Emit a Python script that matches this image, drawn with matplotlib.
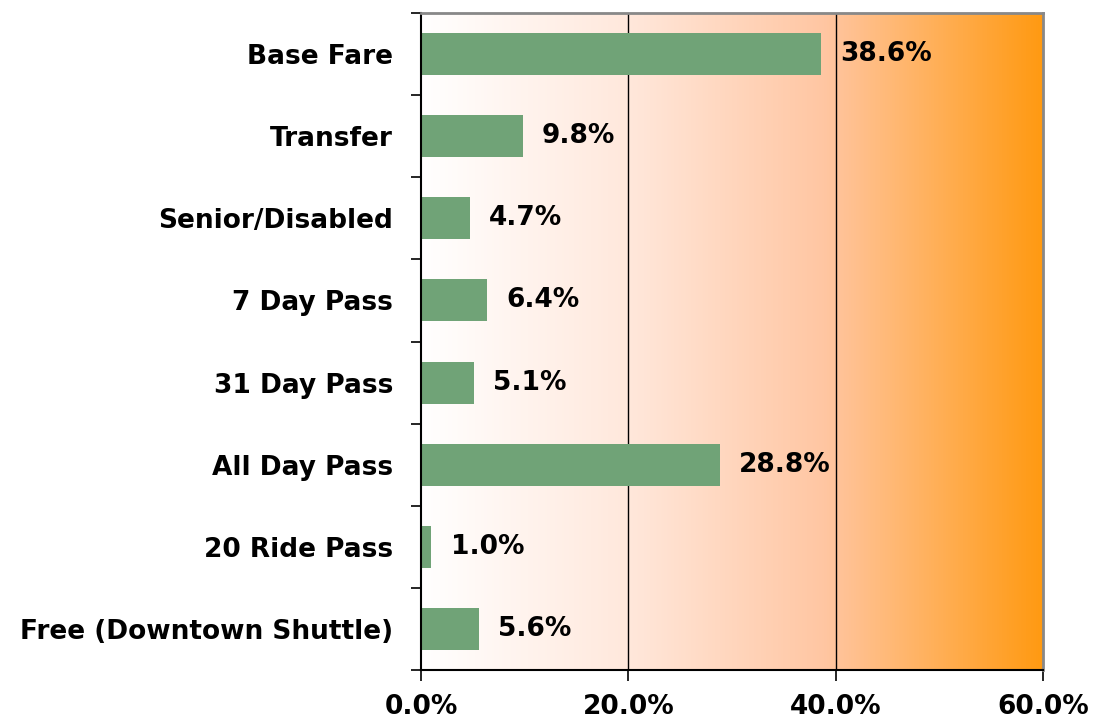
import numpy as np
import matplotlib.pyplot as plt
from matplotlib.colors import LinearSegmentedColormap

# === Données ===
categories = ["Base Fare", "Transfer", "Senior/Disabled", "7 Day Pass",
              "31 Day Pass", "All Day Pass", "20 Ride Pass", "Free (Downtown Shuttle)"]
values = [38.6, 9.8, 4.7, 6.4, 5.1, 28.8, 1.0, 5.6]
x_ticks = [0, 20, 40, 60]

bar_color = "#70a377"
bg_cmap = LinearSegmentedColormap.from_list(
    "bg", [(0.0, "#ffffff"), (0.33, "#ffe8dc"), (0.65, "#ffc6a2"), (1.0, "#ff9a12")])

fig = plt.figure(figsize=(10.98, 7.21), dpi=100)
ax = fig.add_axes([421 / 1098, 1 - 670 / 721, (1043 - 421) / 1098, (670 - 13) / 721])

n = len(categories)
ypos = np.arange(n)

# fond dégradé
grad = np.linspace(0, 1, 512).reshape(1, -1)
ax.imshow(grad, cmap=bg_cmap, aspect="auto", extent=[0, 60, n - 0.5, -0.5], zorder=0)

for x in [20, 40]:
    ax.axvline(x, color="black", lw=1.0, zorder=1)

ax.barh(ypos, values, height=0.51, color=bar_color, zorder=2)

for y, v in zip(ypos, values):
    ax.annotate(f"{v:.1f}%", (v, y), xytext=(14, 0), textcoords="offset points",
                va="center", ha="left", fontsize=19, fontweight="bold", zorder=3)

ax.set_xlim(0, 60)
ax.set_ylim(n - 0.5, -0.5)
ax.set_xticks(x_ticks)
ax.set_xticklabels([f"{t:.1f}%" for t in x_ticks], fontsize=19, fontweight="bold")
ax.set_yticks(ypos)
ax.set_yticklabels(categories, fontsize=19, fontweight="bold")
ax.set_yticks(np.arange(n + 1) - 0.5, minor=True)
ax.tick_params(axis="y", which="major", length=0, pad=20)
ax.tick_params(axis="y", which="minor", length=7, width=1.2, direction="out")
ax.tick_params(axis="x", length=8, width=1.2, direction="out", pad=9)

for side in ["left", "bottom"]:
    ax.spines[side].set_color("black")
    ax.spines[side].set_linewidth(1.5)
for side in ["top", "right"]:
    ax.spines[side].set_color("#888888")
    ax.spines[side].set_linewidth(2)

plt.savefig("out.png", dpi=100)
